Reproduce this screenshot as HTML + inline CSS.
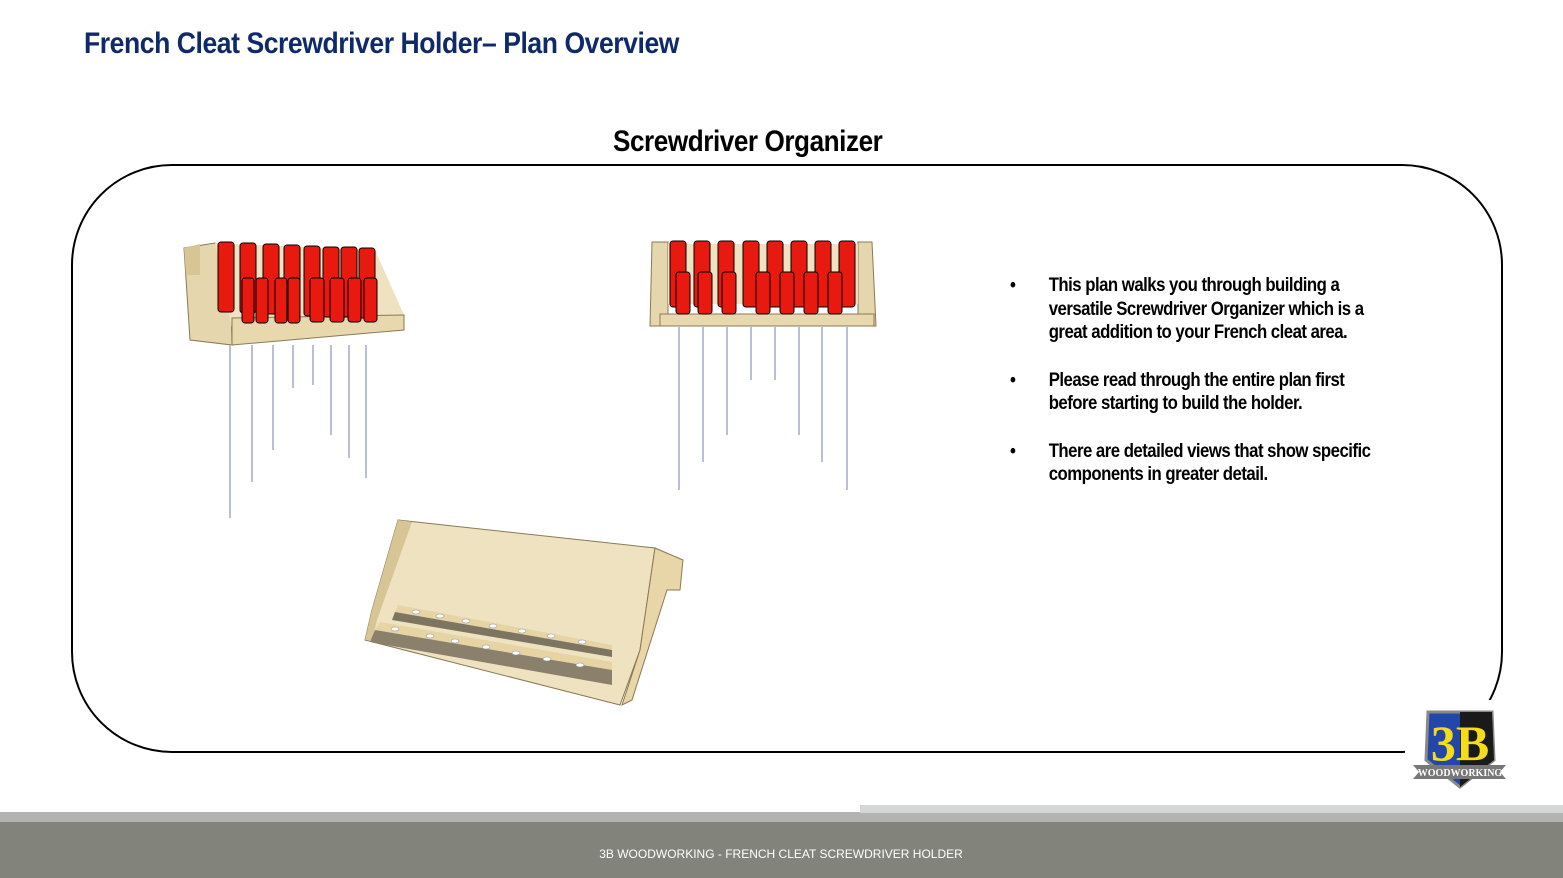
<!DOCTYPE html>
<html><head><meta charset="utf-8"><style>
html,body{margin:0;padding:0;background:#fff;}
body{width:1563px;height:878px;position:relative;overflow:hidden;font-family:"Liberation Sans",sans-serif;}
.t{position:absolute;font-weight:bold;font-stretch:condensed;letter-spacing:-0.5px;}
.b{position:relative;padding-left:45px;margin-top:24px;transform:scaleX(0.86);transform-origin:left;width:395px;}
</style></head><body>
<div class="t" style="left:84px;top:27px;font-size:30px;color:#0f2a6b;transform:scaleX(0.885);transform-origin:left;">French Cleat Screwdriver Holder– Plan Overview</div>
<div class="t" style="left:613px;top:125px;font-size:30px;color:#000;transform:scaleX(0.87);transform-origin:left;">Screwdriver Organizer</div>
<svg width="1563" height="878" style="position:absolute;left:0;top:0">
<rect x="72" y="165" width="1430" height="587" rx="100" fill="none" stroke="#000" stroke-width="2"/>
<!-- holder 1 -->
<g>
<polygon points="184,248 215,243 230,260 232,345 190,340" fill="#e6d6ae" stroke="#8a7a55"/>
<polygon points="184,248 200,244 200,275 186,275" fill="#d8c595"/>
<polygon points="215,243 375,250 404,315 404,330 232,330" fill="#efe2c0"/>
<polygon points="232,318 404,315 404,330 232,345" fill="#e8d8ae" stroke="#8a7a55"/>
<g fill="#e8190f" stroke="#000" stroke-width="1">
<rect x="218" y="242" width="16" height="70" rx="3"/><rect x="240" y="243" width="16" height="70" rx="3"/>
<rect x="263" y="244" width="16" height="70" rx="3"/><rect x="284" y="245" width="16" height="70" rx="3"/>
<rect x="304" y="246" width="16" height="70" rx="3"/><rect x="323" y="247" width="16" height="70" rx="3"/>
<rect x="341" y="247" width="16" height="70" rx="3"/><rect x="359" y="248" width="16" height="70" rx="3"/>
<rect x="242" y="278" width="12" height="45" rx="3"/><rect x="256" y="278" width="12" height="45" rx="3"/>
<rect x="275" y="278" width="12" height="45" rx="3"/><rect x="288" y="278" width="12" height="45" rx="3"/>
<rect x="310" y="278" width="14" height="44" rx="3"/><rect x="330" y="278" width="14" height="44" rx="3"/>
<rect x="348" y="278" width="13" height="44" rx="3"/><rect x="364" y="278" width="13" height="44" rx="3"/>
</g>
<g stroke="#b8bfd6" stroke-width="2">
<line x1="230" y1="345" x2="230" y2="518"/><line x1="252" y1="345" x2="252" y2="482"/>
<line x1="273" y1="345" x2="273" y2="450"/><line x1="293" y1="345" x2="293" y2="388"/>
<line x1="313" y1="345" x2="313" y2="385"/><line x1="331" y1="345" x2="331" y2="435"/>
<line x1="349" y1="345" x2="349" y2="458"/><line x1="366" y1="345" x2="366" y2="478"/>
</g>
</g>
<!-- holder 2 -->
<g>
<polygon points="652,242 668,242 668,326 650,326" fill="#e6d6ae" stroke="#8a7a55"/>
<polygon points="858,242 872,242 876,326 858,326" fill="#e6d6ae" stroke="#8a7a55"/>
<rect x="668" y="244" width="190" height="60" fill="#efe2c0"/>
<rect x="660" y="314" width="214" height="12" fill="#e8d8ae" stroke="#8a7a55"/>
<g fill="#e8190f" stroke="#000">
<rect x="670" y="241" width="16" height="66" rx="3"/><rect x="694" y="241" width="16" height="66" rx="3"/>
<rect x="718" y="241" width="16" height="66" rx="3"/><rect x="743" y="241" width="16" height="66" rx="3"/>
<rect x="767" y="241" width="16" height="66" rx="3"/><rect x="791" y="241" width="16" height="66" rx="3"/>
<rect x="815" y="241" width="16" height="66" rx="3"/><rect x="839" y="241" width="16" height="66" rx="3"/>
<rect x="676" y="272" width="14" height="42" rx="3"/><rect x="698" y="272" width="14" height="42" rx="3"/>
<rect x="722" y="272" width="14" height="42" rx="3"/><rect x="756" y="272" width="14" height="42" rx="3"/>
<rect x="780" y="272" width="14" height="42" rx="3"/><rect x="804" y="272" width="14" height="42" rx="3"/>
<rect x="828" y="272" width="14" height="42" rx="3"/>
</g>
<g stroke="#b8bfd6" stroke-width="2">
<line x1="679" y1="326" x2="679" y2="490"/><line x1="703" y1="326" x2="703" y2="462"/>
<line x1="727" y1="326" x2="727" y2="435"/><line x1="751" y1="326" x2="751" y2="380"/>
<line x1="775" y1="326" x2="775" y2="380"/><line x1="799" y1="326" x2="799" y2="435"/>
<line x1="822" y1="326" x2="822" y2="462"/><line x1="847" y1="326" x2="847" y2="490"/>
</g>
</g>
<!-- empty holder -->
<g>
<polygon points="398,520 655,548 640,650 620,705 365,640 372,610" fill="#efe2c0" stroke="#8a7a55"/>
<polygon points="398,520 412,522 377,620 372,640 365,640 372,610" fill="#d8c595"/>
<polygon points="398,605 612,645 612,650 395,612" fill="#e6d4a5"/>
<polygon points="395,612 612,650 612,657 392,620" fill="#7d7461"/>
<polygon points="380,622 612,662 612,670 375,630" fill="#e6d4a5"/>
<polygon points="375,630 612,670 612,685 370,642" fill="#8a806b"/>
<g fill="#fff" stroke="#999" stroke-width="0.6">
<ellipse cx="416" cy="612" rx="4" ry="2"/><ellipse cx="440" cy="616" rx="4" ry="2"/><ellipse cx="466" cy="621" rx="4" ry="2"/><ellipse cx="493" cy="626" rx="4" ry="2"/><ellipse cx="522" cy="631" rx="4" ry="2"/><ellipse cx="551" cy="636" rx="4" ry="2"/><ellipse cx="582" cy="642" rx="4" ry="2"/>
<ellipse cx="395" cy="629" rx="4" ry="2"/><ellipse cx="430" cy="636" rx="4" ry="2"/><ellipse cx="455" cy="641" rx="4" ry="2"/><ellipse cx="486" cy="647" rx="4" ry="2"/><ellipse cx="516" cy="653" rx="4" ry="2"/><ellipse cx="547" cy="659" rx="4" ry="2"/><ellipse cx="580" cy="665" rx="4" ry="2"/>
</g>
<polygon points="655,548 683,560 680,590 667,590 632,700 622,705 640,650" fill="#e8d6a8" stroke="#8a7a55"/>
</g>
<rect x="1405" y="700" width="110" height="92" fill="#fff"/>
<path d="M1428,712 L1492,712 L1494,760 L1460,787 L1426,760 Z" fill="#2247a8" stroke="#888" stroke-width="3"/>
<path d="M1460,712 L1492,712 L1494,760 L1460,787 Z" fill="#1a1a1a"/>
<text x="1460" y="760" font-family="Liberation Serif" font-weight="bold" font-size="50" fill="#f5dc1a" text-anchor="middle">3B</text>
<polygon points="1413,765 1506,765 1500,772 1506,779 1413,779 1419,772" fill="#777"/>
<text x="1460" y="776" font-family="Liberation Serif" font-weight="bold" font-size="10" fill="#fff" text-anchor="middle">WOODWORKING</text>
<rect x="0" y="812" width="1563" height="10" fill="#b3b3b1"/>
<rect x="860" y="805" width="703" height="8" fill="#d4d6d8"/>
<rect x="0" y="822" width="1563" height="56" fill="#82837b"/>
<text x="781" y="858" font-size="12" fill="#fff" text-anchor="middle" font-family="Liberation Sans">3B WOODWORKING - FRENCH CLEAT SCREWDRIVER HOLDER</text>
</svg>
<div style="position:absolute;left:1010px;top:274px;font-weight:bold;font-size:19.5px;line-height:23.5px;color:#000;letter-spacing:-0.6px;">
<div class="b" style="margin-top:0"><span style="position:absolute;left:0">•</span>This plan walks you through building a versatile Screwdriver Organizer which is a great addition to your French cleat area.</div>
<div class="b"><span style="position:absolute;left:0">•</span>Please read through the entire plan first before starting to build the holder.</div>
<div class="b"><span style="position:absolute;left:0">•</span>There are detailed views that show specific components in greater detail.</div>
</div>
</body></html>
